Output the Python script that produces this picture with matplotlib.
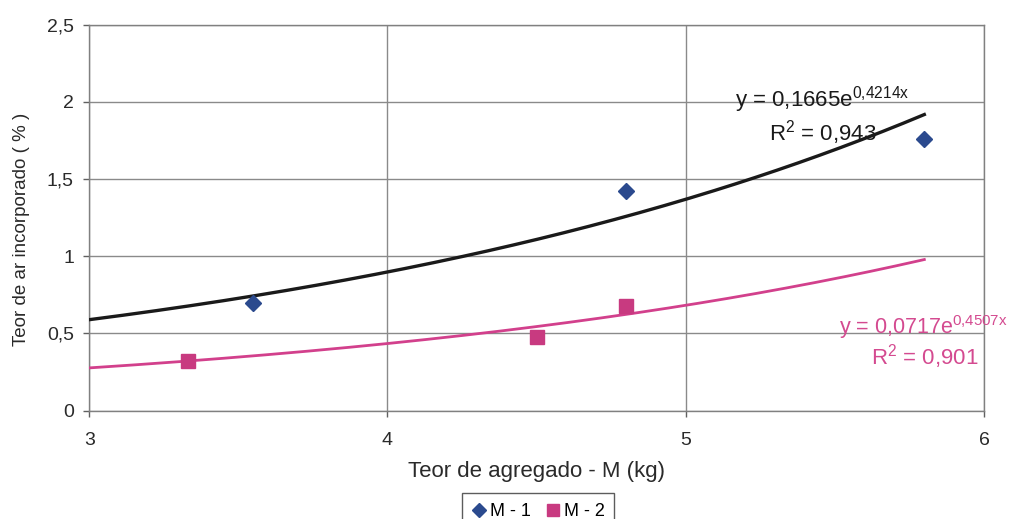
import numpy as np
import matplotlib
matplotlib.use("Agg")
import matplotlib.pyplot as plt
from matplotlib.ticker import FuncFormatter

plt.rcParams['font.family'] = ['Liberation Sans', 'DejaVu Sans']
plt.rcParams['mathtext.fontset'] = 'custom'
plt.rcParams['mathtext.rm'] = 'Liberation Sans'
plt.rcParams['mathtext.it'] = 'Liberation Sans'

# Data
m1_x = [3.55, 4.80, 5.80]
m1_y = [0.70, 1.42, 1.76]
m2_x = [3.33, 4.50, 4.80]
m2_y = [0.32, 0.475, 0.68]

# Trendline coefficients (y = a * exp(b x)), as labelled in the chart
a1, b1 = 0.1665, 0.4214
a2, b2 = 0.0717, 0.4507
trend_range = (3.0, 5.8)

x_ticks = [3, 4, 5, 6]
y_ticks = [0, 0.5, 1, 1.5, 2, 2.5]

black = '#1a1a1a'
blue = '#2b4a8e'
pink = '#c83a80'
pink_line = '#d2408c'
pink_text = '#d44a90'
text_col = '#2a2a2a'

fig = plt.figure(figsize=(10.12, 5.19), dpi=100)
ax = fig.add_axes([0.0882, 0.2087, 0.8841, 0.7437])

tx = np.linspace(trend_range[0], trend_range[1], 200)
ax.plot(tx, a1 * np.exp(b1 * tx), color=black, lw=2.4, zorder=3)
ax.plot(tx, a2 * np.exp(b2 * tx), color=pink_line, lw=2.0, zorder=3)

ax.plot(m1_x, m1_y, linestyle='none', marker='D', ms=8, color=blue,
        label='M - 1', zorder=4)
ax.plot(m2_x, m2_y, linestyle='none', marker='s', ms=9.5, color=pink,
        label='M - 2', zorder=4)

ax.set_xlim(3, 6)
ax.set_ylim(0, 2.5)
ax.set_xticks(x_ticks)
ax.set_yticks(y_ticks)
fmt = FuncFormatter(lambda v, p: ('%g' % v).replace('.', ','))
ax.xaxis.set_major_formatter(fmt)
ax.yaxis.set_major_formatter(fmt)
ax.grid(True, color='#8a8a8a', lw=1.0)
ax.set_axisbelow(True)
for s in ax.spines.values():
    s.set_color('#808080')
    s.set_linewidth(1.0)
ax.tick_params(axis='both', direction='out', length=4, width=1,
               color='#606060', labelsize=14, labelcolor=text_col)
ax.tick_params(axis='x', pad=11)
ax.tick_params(axis='y', pad=7)

ax.set_xlabel('Teor de agregado - M (kg)', fontsize=16, color=text_col,
              labelpad=9)
ax.set_ylabel('Teor de ar incorporado ( % )', fontsize=13.5, color=text_col)
ax.yaxis.set_label_coords(-0.066, 0.47)

ax.text(5.457, 2.012, r'y = 0,1665e$^{0{,}4214x}$', ha='center', va='center',
        fontsize=16, color=black, zorder=5)
ax.text(5.46, 1.80, r'R$^{2}$ = 0,943', ha='center', va='center',
        fontsize=16, color=black, zorder=5)
ax.text(5.795, 0.542, r'y = 0,0717e$^{0{,}4507x}$', ha='center', va='center',
        fontsize=15.5, color=pink_text, zorder=5, clip_on=False)
ax.text(5.80, 0.348, r'R$^{2}$ = 0,901', ha='center', va='center',
        fontsize=16, color=pink_text, zorder=5)

leg = fig.legend(loc='upper center', bbox_to_anchor=(0.532, 1 - 493 / 519),
                 ncol=2, frameon=True, fancybox=False, fontsize=13,
                 handlelength=0.8, handletextpad=0.2, columnspacing=0.8,
                 borderpad=0.55, borderaxespad=0, markerscale=0.9)
leg.get_frame().set_edgecolor('#333333')
leg.get_frame().set_linewidth(1.0)

fig.savefig('out.png', dpi=100)
